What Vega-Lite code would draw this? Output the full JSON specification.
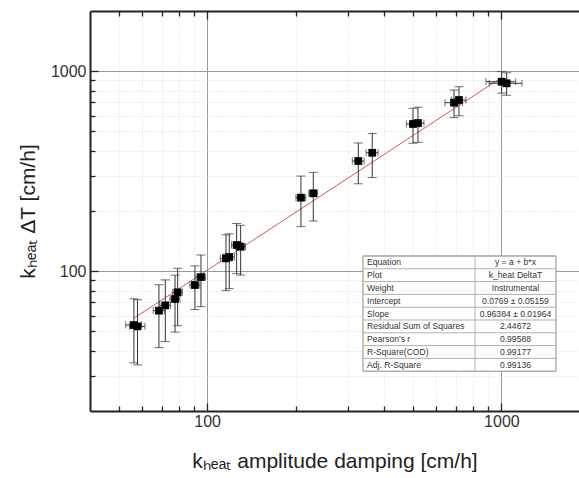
{
  "$schema": "https://vega.github.io/schema/vega-lite/v6.json",
  "width": 489,
  "height": 400,
  "autosize": {"type": "none"},
  "padding": {"left": 90, "top": 11, "right": 0, "bottom": 67},
  "background": "white",
  "config": {"view": {"stroke": null}, "font": "Liberation Sans"},
  "data": {"values": [
    {"x": 56.4, "y": 53.8, "ye": 19, "xe": 3.5},
    {"x": 58.0, "y": 53.0, "ye": 19, "xe": 3.5},
    {"x": 68.6, "y": 63.5, "ye": 22, "xe": 3},
    {"x": 72.1, "y": 67.5, "ye": 23, "xe": 3},
    {"x": 77.8, "y": 72.6, "ye": 23, "xe": 3},
    {"x": 79.4, "y": 78.4, "ye": 25, "xe": 3},
    {"x": 90.9, "y": 85.3, "ye": 21, "xe": 3.5},
    {"x": 95.3, "y": 93.5, "ye": 27, "xe": 3.5},
    {"x": 115.9, "y": 116.0, "ye": 36, "xe": 5},
    {"x": 118.9, "y": 117.8, "ye": 36, "xe": 5},
    {"x": 126.0, "y": 135.2, "ye": 38, "xe": 5},
    {"x": 130.0, "y": 132.6, "ye": 37, "xe": 5},
    {"x": 208.4, "y": 233.1, "ye": 66, "xe": 8},
    {"x": 229.5, "y": 245.2, "ye": 67, "xe": 8},
    {"x": 326.4, "y": 355.6, "ye": 82, "xe": 15},
    {"x": 364.0, "y": 391.0, "ye": 97, "xe": 17},
    {"x": 500.6, "y": 544.5, "ye": 108, "xe": 25},
    {"x": 520.6, "y": 550.8, "ye": 110, "xe": 25},
    {"x": 690.0, "y": 696.0, "ye": 110, "xe": 47},
    {"x": 717.5, "y": 717.8, "ye": 119, "xe": 40},
    {"x": 1002.0, "y": 886.0, "ye": 109, "xe": 116},
    {"x": 1042.0, "y": 870.0, "ye": 112, "xe": 133}
  ]},
  "resolve": {"axis": {"x": "independent", "y": "independent"}, "scale": {"y": "independent"}},
  "layer": [
    {
      "data": {"values": [{"fx": 56.4, "fy": 58.2}, {"fx": 1002, "fy": 930}]},
      "mark": {"type": "line", "color": "#d25a56", "strokeWidth": 1},
      "encoding": {
        "x": {"field": "fx", "type": "quantitative",
          "scale": {"type": "log", "domain": [40, 1835], "nice": false},
          "axis": {"orient": "bottom", "values": [50,60,70,80,90,100,200,300,400,500,600,700,800,900,1000],
            "format": "d",
            "labelExpr": "datum.value == 100 || datum.value == 1000 ? datum.label : ''",
            "labelOverlap": false,
            "tickSize": {"condition": {"test": "datum.value == 100 || datum.value == 1000", "value": -8}, "value": -5},
            "tickColor": "#222", "tickWidth": 1.3,
            "grid": true,
            "gridColor": {"condition": {"test": "datum.value == 100 || datum.value == 1000", "value": "#9a9a9a"}, "value": "#dcdcdc"},
            "gridDash": {"condition": {"test": "datum.value == 100 || datum.value == 1000", "value": []}, "value": [1, 2]},
            "gridWidth": 1,
            "domainColor": "#222", "domainWidth": 2,
            "labelFont": "Liberation Sans", "labelFontSize": 16, "labelColor": "#333", "labelPadding": 10,
            "title": "kₕₑₐₜ amplitude damping [cm/h]", "titleFont": "Liberation Sans", "titleFontSize": 21,
            "titleFontWeight": "normal", "titleColor": "#222", "titlePadding": 18}},
        "y": {"field": "fy", "type": "quantitative",
          "scale": {"type": "log", "domain": [20, 2000], "nice": false},
          "axis": {"orient": "left", "values": [30,40,50,60,70,80,90,100,200,300,400,500,600,700,800,900,1000],
            "format": "d",
            "labelExpr": "datum.value == 100 || datum.value == 1000 ? datum.label : ''",
            "labelOverlap": false,
            "tickSize": {"condition": {"test": "datum.value == 100 || datum.value == 1000", "value": -8}, "value": -5},
            "tickColor": "#222", "tickWidth": 1.3,
            "grid": true,
            "gridColor": {"condition": {"test": "datum.value == 100 || datum.value == 1000", "value": "#9a9a9a"}, "value": "#dcdcdc"},
            "gridDash": {"condition": {"test": "datum.value == 100 || datum.value == 1000", "value": []}, "value": [1, 2]},
            "gridWidth": 1,
            "domainColor": "#222", "domainWidth": 2,
            "labelFont": "Liberation Sans", "labelFontSize": 16, "labelColor": "#333", "labelPadding": 12,
            "title": "kₕₑₐₜ ΔT [cm/h]", "titleFont": "Liberation Sans", "titleFontSize": 21,
            "titleFontWeight": "normal", "titleColor": "#222", "titlePadding": 12}}
      }
    },
    {
      "mark": {"type": "errorbar", "ticks": true, "size": 9, "thickness": 1, "color": "#333"},
      "encoding": {
        "x": {"field": "x", "type": "quantitative", "scale": {"type": "log", "domain": [40, 1835], "nice": false}, "axis": null},
        "y": {"field": "y", "type": "quantitative", "scale": {"type": "log", "domain": [20, 2000], "nice": false}, "axis": null},
        "yError": {"field": "ye"}
      }
    },
    {
      "mark": {"type": "errorbar", "ticks": true, "size": 7, "thickness": 1, "color": "#333"},
      "encoding": {
        "x": {"field": "x", "type": "quantitative", "scale": {"type": "log", "domain": [40, 1835], "nice": false}, "axis": null},
        "xError": {"field": "xe"},
        "y": {"field": "y", "type": "quantitative", "scale": {"type": "log", "domain": [20, 2000], "nice": false}, "axis": null}
      }
    },
    {
      "mark": {"type": "point", "shape": "square", "filled": true, "color": "#000", "size": 60, "opacity": 1},
      "encoding": {
        "x": {"field": "x", "type": "quantitative", "scale": {"type": "log", "domain": [40, 1835], "nice": false},
          "axis": {"orient": "top", "values": [50,60,70,80,90,100,200,300,400,500,600,700,800,900,1000],
            "labels": false, "grid": false, "title": null,
            "tickSize": {"condition": {"test": "datum.value == 100 || datum.value == 1000", "value": -8}, "value": -5},
            "tickColor": "#222", "tickWidth": 1.3,
            "domainColor": "#222", "domainWidth": 2}},
        "y": {"field": "y", "type": "quantitative", "scale": {"type": "log", "domain": [20, 2000], "nice": false}, "axis": null}
      }
    },
    {
      "data": {"values": [{}]},
      "mark": {"type": "rect", "fill": "white", "stroke": "#8a8a8a", "strokeWidth": 1, "yOffset": -6.4, "y2Offset": 6.4},
      "encoding": {
        "x": {"datum": 338.6, "type": "quantitative", "scale": {"type": "log", "domain": [40, 1835], "nice": false}, "axis": null},
        "x2": {"datum": 1532},
        "y": {"datum": 0, "type": "quantitative", "scale": {"domain": [-19.64, 11.61], "reverse": true, "nice": false, "zero": false}, "axis": null},
        "y2": {"datum": 8}
      }
    },
    {
      "data": {"name": "table"},
      "mark": {"type": "rule", "color": "#b0b0b0", "strokeWidth": 1, "yOffset": -6.4},
      "encoding": {
        "x": {"datum": 338.6, "type": "quantitative", "scale": {"type": "log", "domain": [40, 1835], "nice": false}, "axis": null},
        "x2": {"datum": 1532},
        "y": {"field": "row", "type": "quantitative", "scale": {"domain": [-19.64, 11.61], "reverse": true, "nice": false, "zero": false}, "axis": null}
      }
    },
    {
      "data": {"values": [{}]},
      "mark": {"type": "rule", "color": "#b0b0b0", "strokeWidth": 1, "yOffset": -6.4, "y2Offset": 6.4},
      "encoding": {
        "x": {"datum": 813.4, "type": "quantitative", "scale": {"type": "log", "domain": [40, 1835], "nice": false}, "axis": null},
        "y": {"datum": 0, "type": "quantitative", "scale": {"domain": [-19.64, 11.61], "reverse": true, "nice": false, "zero": false}, "axis": null},
        "y2": {"datum": 8}
      }
    },
    {
      "data": {"name": "table"},
      "mark": {"type": "text", "align": "left", "baseline": "middle", "font": "Liberation Sans", "fontSize": 8.6, "color": "#333"},
      "encoding": {
        "x": {"datum": 349.4, "type": "quantitative", "scale": {"type": "log", "domain": [40, 1835], "nice": false}, "axis": null},
        "y": {"field": "row", "type": "quantitative", "scale": {"domain": [-19.64, 11.61], "reverse": true, "nice": false, "zero": false}, "axis": null},
        "text": {"field": "label"}
      }
    },
    {
      "data": {"name": "table"},
      "mark": {"type": "text", "align": "center", "baseline": "middle", "font": "Liberation Sans", "fontSize": 8.6, "color": "#333"},
      "encoding": {
        "x": {"datum": 1116, "type": "quantitative", "scale": {"type": "log", "domain": [40, 1835], "nice": false}, "axis": null},
        "y": {"field": "row", "type": "quantitative", "scale": {"domain": [-19.64, 11.61], "reverse": true, "nice": false, "zero": false}, "axis": null},
        "text": {"field": "value"}
      }
    }
  ],
  "datasets": {
    "table": [
      {"row": 0, "label": "Equation", "value": "y = a + b*x"},
      {"row": 1, "label": "Plot", "value": "k_heat DeltaT"},
      {"row": 2, "label": "Weight", "value": "Instrumental"},
      {"row": 3, "label": "Intercept", "value": "0.0769 ± 0.05159"},
      {"row": 4, "label": "Slope", "value": "0.96384 ± 0.01964"},
      {"row": 5, "label": "Residual Sum of Squares", "value": "2.44672"},
      {"row": 6, "label": "Pearson's r", "value": "0.99588"},
      {"row": 7, "label": "R-Square(COD)", "value": "0.99177"},
      {"row": 8, "label": "Adj. R-Square", "value": "0.99136"}
    ]
  }
}
